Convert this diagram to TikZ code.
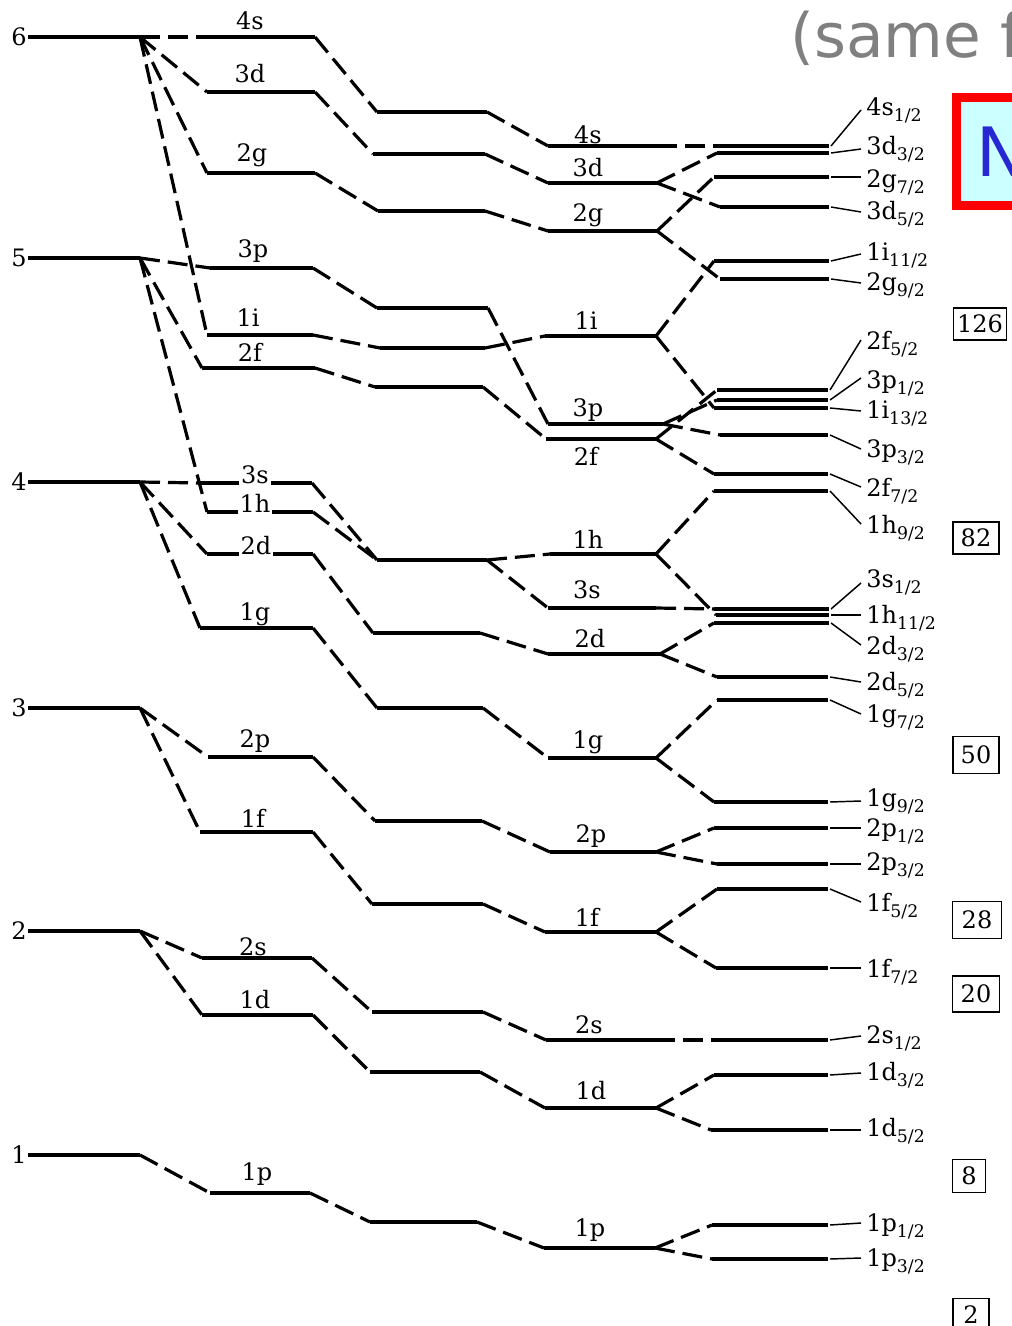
\documentclass[tikz,border=0pt]{standalone}
\usepackage{fontspec}
\newfontfamily\sansx{DejaVu Sans}
\newfontfamily\serifx{DejaVu Serif}
\newcommand{\mklev}[4]{\coordinate (#1l) at (#2,#4); \coordinate (#1r) at (#3,#4); \draw[lvline] (#1l) -- (#1r);}
\newcommand{\sbs}[1]{\raisebox{-4.5pt}{\fontsize{13}{13}\selectfont #1}}
\newcommand{\mkrlab}[4]{\node[rlab] (t#1) at (866,#4) {#2};
 \coordinate (k#1) at (861,#3);
 \draw[lead] ([xshift=1.5pt]#1r) -- (k#1);}
\begin{document}
\begin{tikzpicture}[x=0.75pt,y=-0.75pt,
 lvline/.style={line width=3pt},
 conn/.style={line width=2.4pt, dash pattern=on 15pt off 6pt},
 lead/.style={line width=1.1pt},
 txt/.style={font=\serifx\fontsize{18}{22}\selectfont, inner sep=0pt},
 blab/.style={txt, anchor=base},
 wlab/.style={txt, anchor=base, fill=white, inner xsep=1.5pt, inner ysep=3pt},
 rlab/.style={txt, anchor=base west},
 nlab/.style={txt, anchor=east},
 magic/.style={draw, line width=1.1pt, font=\serifx\fontsize{18}{22}\selectfont, inner sep=0pt}
]
\useasboundingbox (0,0) rectangle (1012,1326);
\clip (0,0) rectangle (1012,1326);
\fill[white] (0,0) rectangle (1012,1326);

% ---- column A (oscillator shells)
\mklev{A6}{28}{140}{37}
\mklev{A5}{28}{140}{258}
\mklev{A4}{28}{140}{482}
\mklev{A3}{28}{140}{708}
\mklev{A2}{28}{140}{931}
\mklev{A1}{28}{140}{1155}
\node[nlab] (n6) at (27,37) {6};
\node[nlab] (n5) at (27,258) {5};
\node[nlab] (n4) at (27,482) {4};
\node[nlab] (n3) at (27,708) {3};
\node[nlab] (n2) at (27,931) {2};
\node[nlab] (n1) at (27,1155) {1};

% ---- column B
\mklev{B4s}{213}{315}{37}
\mklev{B3d}{207}{315}{92}
\mklev{B2g}{207}{315}{173}
\mklev{B3p}{210}{313}{268}
\mklev{B1i}{207}{313}{335}
\mklev{B2f}{202}{315}{368}
\mklev{B3s}{200}{312}{483}
\mklev{B1h}{207}{313}{512}
\mklev{B2d}{207}{313}{554}
\mklev{B1g}{200}{313}{628}
\mklev{B2p}{208}{313}{757}
\mklev{B1f}{200}{313}{832}
\mklev{B2s}{202}{312}{958}
\mklev{B1d}{202}{313}{1015}
\mklev{B1p}{210}{310}{1193}

\node[blab] (b4s) at (250,30) {4s};
\node[blab] (b3d) at (250,83) {3d};
\node[blab] (b2g) at (252,162) {2g};
\node[blab] (b3p) at (253,258) {3p};
\node[blab] (b1i) at (248,327) {1i};
\node[blab] (b2f) at (250,362) {2f};
\node[wlab] (b3s) at (255,483) {3s};
\node[wlab] (b1h) at (255,512) {1h};
\node[wlab] (b2d) at (256,554) {2d};
\node[blab] (b1g) at (255,620) {1g};
\node[blab] (b2p) at (255,747) {2p};
\node[blab] (b1f) at (253,827) {1f};
\node[blab] (b2s) at (253,955) {2s};
\node[blab] (b1d) at (255,1008) {1d};
\node[blab] (b1p) at (257,1180) {1p};

% ---- column C
\mklev{C4s}{377}{487}{112}
\mklev{C3d}{373}{485}{154}
\mklev{C2g}{378}{485}{211}
\mklev{C3p}{377}{488}{308}
\mklev{C1i}{380}{485}{348}
\mklev{C2f}{375}{483}{387}
\mklev{C3s}{377}{487}{560}
\coordinate (C1hl) at (C3sl); \coordinate (C1hr) at (C3sr);
\mklev{C2d}{373}{480}{633}
\mklev{C1g}{377}{483}{708}
\mklev{C2p}{375}{482}{821}
\mklev{C1f}{372}{483}{904}
\mklev{C2s}{372}{483}{1012}
\mklev{C1d}{370}{480}{1072}
\mklev{C1p}{370}{477}{1222}

% ---- column D
\mklev{D4s}{548}{657}{146}
\mklev{D3d}{548}{657}{183}
\mklev{D2g}{548}{657}{231}
\mklev{D1i}{545}{656}{336}
\mklev{D3p}{548}{663}{424}
\mklev{D2f}{546}{656}{439}
\mklev{D1h}{550}{656}{554}
\mklev{D3s}{548}{656}{608}
\mklev{D2d}{548}{660}{654}
\mklev{D1g}{548}{656}{758}
\mklev{D2p}{550}{656}{852}
\mklev{D1f}{545}{656}{932}
\mklev{D2s}{546}{655}{1040}
\mklev{D1d}{545}{656}{1108}
\mklev{D1p}{544}{655}{1248}

\node[blab] (d4s) at (588,144) {4s};
\node[blab] (d3d) at (588,177) {3d};
\node[blab] (d2g) at (588,222) {2g};
\node[blab] (d1i) at (586,330) {1i};
\node[blab] (d3p) at (588,416) {3p};
\node[blab] (d2f) at (586,465) {2f};
\node[blab] (d1h) at (588,548) {1h};
\node[blab] (d3s) at (587,598) {3s};
\node[blab] (d2d) at (590,647) {2d};
\node[blab] (d1g) at (588,748) {1g};
\node[blab] (d2p) at (591,842) {2p};
\node[blab] (d1f) at (587,926) {1f};
\node[blab] (d2s) at (589,1033) {2s};
\node[blab] (d1d) at (591,1099) {1d};
\node[blab] (d1p) at (590,1236) {1p};

% ---- column E
\mklev{E4s1}{714}{829}{146}
\mklev{E3d3}{717}{829}{153}
\mklev{E2g7}{714}{829}{177}
\mklev{E3d5}{720}{829}{207}
\mklev{E1i11}{714}{829}{261}
\mklev{E2g9}{720}{829}{279}
\mklev{E2f5}{717}{828}{390}
\mklev{E3p1}{717}{828}{400}
\mklev{E1i13}{714}{828}{408}
\mklev{E3p3}{720}{828}{435}
\mklev{E2f7}{714}{828}{474}
\mklev{E1h9}{714}{828}{491}
\mklev{E3s1}{714}{829}{609}
\mklev{E1h11}{716}{829}{615}
\mklev{E2d3}{714}{829}{623}
\mklev{E2d5}{717}{828}{677}
\mklev{E1g7}{717}{828}{700}
\mklev{E1g9}{714}{828}{802}
\mklev{E2p1}{714}{828}{828}
\mklev{E2p3}{717}{828}{864}
\mklev{E1f5}{717}{828}{889}
\mklev{E1f7}{716}{828}{968}
\mklev{E2s1}{714}{828}{1040}
\mklev{E1d3}{714}{828}{1075}
\mklev{E1d5}{711}{828}{1130}
\mklev{E1p1}{712}{828}{1225}
\mklev{E1p3}{712}{828}{1259}

% ---- connectors A -> B
\foreach \s in {4s,3d,2g,1i} \draw[conn] (A6r) -- (B\s l);
\foreach \s in {3p,2f,1h} \draw[conn] (A5r) -- (B\s l);
\foreach \s in {3s,2d,1g} \draw[conn] (A4r) -- (B\s l);
\foreach \s in {2p,1f} \draw[conn] (A3r) -- (B\s l);
\foreach \s in {2s,1d} \draw[conn] (A2r) -- (B\s l);
\draw[conn] (A1r) -- (B1pl);

% ---- connectors B -> C and C -> D
\foreach \s in {4s,3d,2g,3p,1i,2f,3s,1h,2d,1g,2p,1f,2s,1d,1p}{
  \draw[conn] (B\s r) -- (C\s l);
  \draw[conn] (C\s r) -- (D\s l);
}

% ---- connectors D -> E
\draw[conn] (D4sr) -- (E4s1l);
\draw[conn] (D3dr) -- (E3d3l); \draw[conn] (D3dr) -- (E3d5l);
\draw[conn] (D2gr) -- (E2g7l); \draw[conn] (D2gr) -- (E2g9l);
\draw[conn] (D1ir) -- (E1i11l); \draw[conn] (D1ir) -- (E1i13l);
\draw[conn] (D3pr) -- (E3p1l); \draw[conn] (D3pr) -- (E3p3l);
\draw[conn] (D2fr) -- (E2f5l); \draw[conn] (D2fr) -- (E2f7l);
\draw[conn] (D1hr) -- (E1h9l); \draw[conn] (D1hr) -- (E1h11l);
\draw[conn] (D3sr) -- (E3s1l);
\draw[conn] (D2dr) -- (E2d3l); \draw[conn] (D2dr) -- (E2d5l);
\draw[conn] (D1gr) -- (E1g7l); \draw[conn] (D1gr) -- (E1g9l);
\draw[conn] (D2pr) -- (E2p1l); \draw[conn] (D2pr) -- (E2p3l);
\draw[conn] (D1fr) -- (E1f5l); \draw[conn] (D1fr) -- (E1f7l);
\draw[conn] (D2sr) -- (E2s1l);
\draw[conn] (D1dr) -- (E1d3l); \draw[conn] (D1dr) -- (E1d5l);
\draw[conn] (D1pr) -- (E1p1l); \draw[conn] (D1pr) -- (E1p3l);

% ---- right labels with leaders
\mkrlab{E4s1}{4s\sbs{1/2}}{110}{116}
\mkrlab{E3d3}{3d\sbs{3/2}}{149}{155}
\mkrlab{E2g7}{2g\sbs{7/2}}{177}{188}
\mkrlab{E3d5}{3d\sbs{5/2}}{212}{220}
\mkrlab{E1i11}{1i\sbs{11/2}}{254}{261}
\mkrlab{E2g9}{2g\sbs{9/2}}{283}{291}
\mkrlab{E2f5}{2f\sbs{5/2}}{340}{350}
\mkrlab{E3p1}{3p\sbs{1/2}}{378}{388}
\mkrlab{E1i13}{1i\sbs{13/2}}{411}{418}
\mkrlab{E3p3}{3p\sbs{3/2}}{449}{457}
\mkrlab{E2f7}{2f\sbs{7/2}}{487}{496}
\mkrlab{E1h9}{1h\sbs{9/2}}{524}{533}
\mkrlab{E3s1}{3s\sbs{1/2}}{583}{587}
\mkrlab{E1h11}{1h\sbs{11/2}}{615}{623}
\mkrlab{E2d3}{2d\sbs{3/2}}{645}{654}
\mkrlab{E2d5}{2d\sbs{5/2}}{682}{690}
\mkrlab{E1g7}{1g\sbs{7/2}}{714}{722}
\mkrlab{E1g9}{1g\sbs{9/2}}{801}{806}
\mkrlab{E2p1}{2p\sbs{1/2}}{828}{836}
\mkrlab{E2p3}{2p\sbs{3/2}}{864}{870}
\mkrlab{E1f5}{1f\sbs{5/2}}{902}{911}
\mkrlab{E1f7}{1f\sbs{7/2}}{968}{977}
\mkrlab{E2s1}{2s\sbs{1/2}}{1036}{1043}
\mkrlab{E1d3}{1d\sbs{3/2}}{1073}{1080}
\mkrlab{E1d5}{1d\sbs{5/2}}{1130}{1136}
\mkrlab{E1p1}{1p\sbs{1/2}}{1223}{1231}
\mkrlab{E1p3}{1p\sbs{3/2}}{1258}{1266}

% ---- magic numbers
\node[magic, minimum width=39.75pt, minimum height=24pt] (m126) at (980,324) {126};
\node[magic, minimum width=34.5pt, minimum height=24pt] (m82) at (976,538) {82};
\node[magic, minimum width=34.5pt, minimum height=27.5pt] (m50) at (976,755) {50};
\node[magic, minimum width=36.75pt, minimum height=27.5pt] (m28) at (977,920) {28};
\node[magic, minimum width=35.25pt, minimum height=27pt] (m20) at (976,994) {20};
\node[magic, minimum width=24.75pt, minimum height=24.75pt] (m8) at (969,1176) {8};
\node[magic, minimum width=27pt, minimum height=25pt] (m2) at (971,1315) {2};

% ---- top right fragments
\node[anchor=base west, inner sep=0pt, text=gray, font=\sansx\fontsize{46}{50}\selectfont] (ttl) at (790,58) {(same f};
\draw[draw=red, line width=6.75pt, fill={rgb,255:red,204;green,255;blue,255}] (956.5,98) rectangle (1040,205.5);
\node[anchor=base west, inner sep=0pt, text={rgb,255:red,40;green,40;blue,210}, font=\sansx\fontsize{51}{55}\selectfont] (nN) at (976,177) {N};
\end{tikzpicture}
\end{document}
